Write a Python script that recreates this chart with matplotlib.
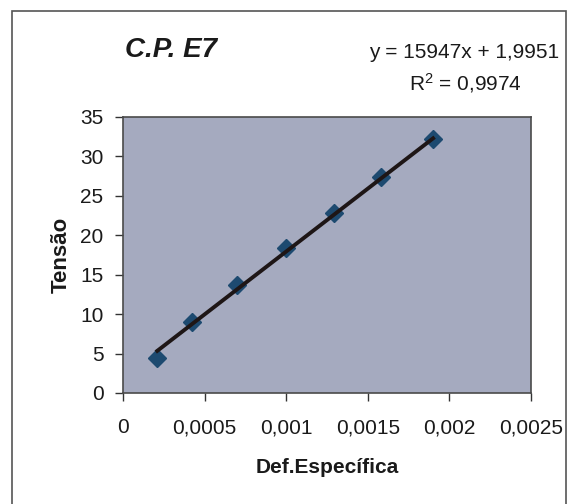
import numpy as np
import matplotlib
matplotlib.use('Agg')
import matplotlib.pyplot as plt
from matplotlib.patches import Rectangle
from matplotlib.ticker import FuncFormatter

# Data.
def_especifica = [0.00021, 0.00042, 0.0007, 0.001, 0.00129, 0.00158, 0.0019]
tensao = [4.4, 9.0, 13.7, 18.4, 22.8, 27.4, 32.2]
x_ticks = [0, 0.0005, 0.001, 0.0015, 0.002, 0.0025]
y_ticks = [0, 5, 10, 15, 20, 25, 30, 35]

# Trendline reported on the chart.
slope = 15947
intercept = 1.9951
r2 = 0.9974

plt.rcParams['font.family'] = ['Liberation Sans', 'DejaVu Sans']

fig = plt.figure(figsize=(5.73, 5.04), dpi=100)
fig.patch.set_facecolor('white')

# Outer chart border.
fig.patches.append(Rectangle((12 / 573, -0.05), 554 / 573, 1.05 - 11 / 504,
	transform=fig.transFigure, fill=False, edgecolor='#555555', linewidth=1.2))

ax = fig.add_axes([123 / 573, 1 - 393 / 504, (531 - 123) / 573, (393 - 117) / 504])
ax.set_facecolor('#a5aabf')

x_fit = np.array([min(def_especifica), max(def_especifica)])
ax.plot(def_especifica, tensao, linestyle='none', marker='D', markersize=9.5,
	color='#1d4a70', markeredgecolor='#1d4a70', zorder=2)
ax.plot(x_fit, slope * x_fit + intercept, color='#1e1616', linewidth=2.8, zorder=3)

ax.set_xlim(0, 0.0025)
ax.set_ylim(0, 35)
ax.set_xticks(x_ticks)
ax.set_yticks(y_ticks)

def comma_fmt(v, pos):
	if v == 0:
		return '0'
	return ('%g' % v).replace('.', ',')

ax.xaxis.set_major_formatter(FuncFormatter(comma_fmt))
ax.tick_params(axis='both', direction='out', length=6, width=1, colors='#333333',
	labelsize=15, labelcolor='#1a1a1a')
ax.tick_params(axis='x', pad=12)
ax.tick_params(axis='y', pad=8)
for s in ax.spines.values():
	s.set_color('#4a4a4a')
	s.set_linewidth(1.2)

ax.set_xlabel('Def.Específica', fontsize=15, fontweight='bold', color='#1a1a1a', labelpad=15)
ax.set_ylabel('Tensão', fontsize=16, fontweight='bold', color='#1a1a1a', labelpad=6)

fig.text(125 / 573, 1 - 50 / 504, 'C.P. E7', fontsize=20, fontweight='bold', fontstyle='italic',
	ha='left', va='center', color='#1a1a1a')
fig.text(559 / 573, 1 - 52 / 504, 'y = %dx + %s' % (slope, ('%.4f' % intercept).replace('.', ',')),
	fontsize=15, ha='right', va='center', color='#1a1a1a')
fig.text(522 / 573, 1 - 83 / 504, '$\\mathregular{R^2}$ = %s' % ('%.4f' % r2).replace('.', ','),
	fontsize=15, ha='right', va='center', color='#1a1a1a')

fig.savefig('out.png', dpi=100, facecolor=fig.get_facecolor())
